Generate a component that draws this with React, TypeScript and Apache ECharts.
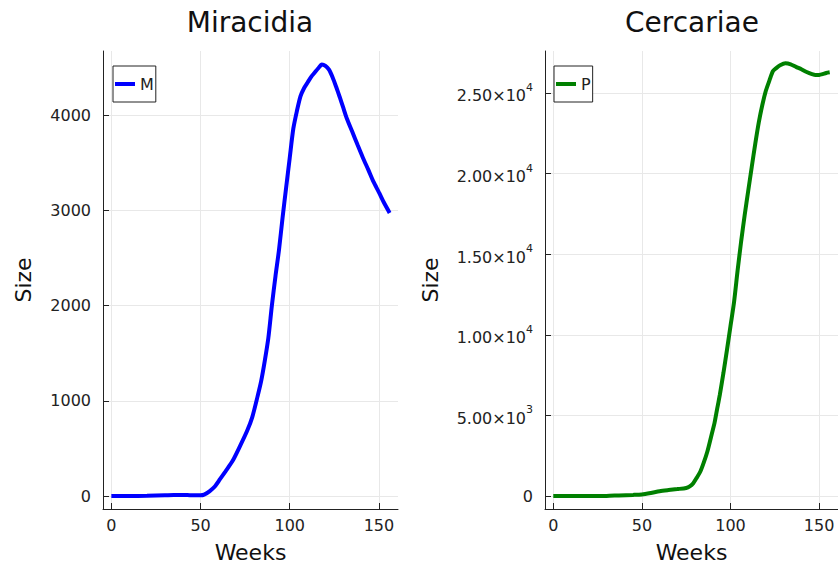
import React, { useEffect, useRef } from "react";
import * as echarts from "echarts";

const mWeeks = [0, 10, 20, 30, 35, 40, 45, 50, 52, 55, 58, 61, 64, 68, 72, 76, 79, 82, 84, 86, 88, 90, 92, 94, 96, 98, 100, 102, 104, 106, 108, 110, 112, 114, 116, 118, 120, 122, 124, 126, 128, 130, 132, 135, 138, 141, 144, 147, 150, 153, 156];
const mValues = [0, 0, 2, 8, 12, 12, 8, 8, 15, 50, 100, 180, 260, 370, 520, 680, 830, 1050, 1210, 1420, 1660, 2005, 2310, 2590, 2930, 3245, 3555, 3860, 4045, 4200, 4285, 4345, 4405, 4450, 4495, 4535, 4520, 4480, 4400, 4300, 4193, 4080, 3967, 3830, 3690, 3555, 3430, 3300, 3190, 3076, 2975];

const pWeeks = [0, 20, 30, 37, 45, 50, 55, 60, 65, 70, 75, 77, 79, 81, 83, 85, 87, 89, 91, 92, 93, 94, 96, 98, 100, 102, 104, 106, 108, 110, 112, 114, 116, 118, 120, 122, 124, 126, 128, 131, 134, 137, 140, 143, 146, 148, 150, 152, 154, 156];
const pValues = [0, 0, 10, 40, 70, 100, 190, 300, 370, 430, 500, 600, 800, 1140, 1520, 2100, 2780, 3650, 4540, 5130, 5700, 6290, 7620, 9050, 10540, 12020, 13970, 15780, 17420, 18920, 20410, 21860, 23190, 24270, 25150, 25780, 26360, 26560, 26720, 26840, 26780, 26620, 26470, 26300, 26170, 26115, 26120, 26170, 26240, 26280];

const xTicks = [0, 50, 100, 150];
const mTicks = [0, 1000, 2000, 3000, 4000];
const pTicks = [0, 5000, 10000, 15000, 20000, 25000];

const FONT = "DejaVu Sans";
const AXIS = "#222222";
const GRID = "#e8e8e8";

function sciLabel(v: number): string {
  if (v === 0) return "0";
  const exp = Math.floor(Math.log10(Math.abs(v)));
  const mant = (v / Math.pow(10, exp)).toFixed(2);
  return `{b|${mant}×10}{s|${exp}}`;
}

function xAxisCfg(gridIndex: number) {
  return {
    type: "value",
    gridIndex,
    min: -4.68,
    max: 160.68,
    name: "Weeks",
    nameLocation: "middle",
    nameGap: 32,
    nameTextStyle: { fontFamily: FONT, fontSize: 22, color: "#111" },
    axisLine: { show: true, onZero: false, lineStyle: { color: AXIS, width: 1 } },
    axisTick: { show: true, inside: true, length: 6, customValues: xTicks, lineStyle: { color: AXIS } },
    axisLabel: { customValues: xTicks, fontFamily: FONT, fontSize: 16, color: "#222", margin: 8, formatter: (v: number) => String(v) },
    splitLine: { show: true, lineStyle: { color: GRID, width: 1 } },
  };
}

function legendCfg(name: string, left: number) {
  return {
    data: [{ name, icon: "rect" }], left, top: 66, orient: "vertical", padding: [10, 2, 10, 2], itemWidth: 20, itemHeight: 4,
    borderColor: "#222", borderWidth: 1, borderRadius: 0, backgroundColor: "#fff",
    textStyle: { fontFamily: FONT, fontSize: 16, color: "#222" },
  };
}

export default function App() {
  const ref = useRef<HTMLDivElement>(null);
  useEffect(() => {
    if (!ref.current) return;
    const chart = echarts.init(ref.current, null, { renderer: "svg" });
    const option: any = {
      animation: false,
      backgroundColor: "#ffffff",
      title: [
        { text: "Miracidia", left: 250, top: 8, textAlign: "center", padding: 0, textStyle: { fontFamily: FONT, fontSize: 28, fontWeight: "normal", color: "#111" } },
        { text: "Cercariae", left: 692, top: 8, textAlign: "center", padding: 0, textStyle: { fontFamily: FONT, fontSize: 28, fontWeight: "normal", color: "#111" } },
      ],
      legend: [legendCfg("M", 113), legendCfg("P", 554)],
      grid: [
        { left: 103, top: 51, width: 295, height: 458, containLabel: false },
        { left: 545, top: 51, width: 293, height: 459, containLabel: false },
      ],
      xAxis: [xAxisCfg(0), xAxisCfg(1)],
      yAxis: [
        {
          type: "value", gridIndex: 0, min: -136, max: 4676,
          name: "Size", nameLocation: "middle", nameGap: 69,
          nameTextStyle: { fontFamily: FONT, fontSize: 22, color: "#111" },
          axisLine: { show: true, onZero: false, lineStyle: { color: AXIS, width: 1 } },
          axisTick: { show: true, inside: true, length: 6, customValues: mTicks, lineStyle: { color: AXIS } },
          axisLabel: { customValues: mTicks, fontFamily: FONT, fontSize: 16, color: "#222", margin: 12, formatter: (v: number) => String(v) },
          splitLine: { show: true, lineStyle: { color: GRID, width: 1 } },
        },
        {
          type: "value", gridIndex: 1, min: -804, max: 27604,
          name: "Size", nameLocation: "middle", nameGap: 104,
          nameTextStyle: { fontFamily: FONT, fontSize: 22, color: "#111" },
          axisLine: { show: true, onZero: false, lineStyle: { color: AXIS, width: 1 } },
          axisTick: { show: true, inside: true, length: 6, customValues: pTicks, lineStyle: { color: AXIS } },
          axisLabel: {
            customValues: pTicks, fontFamily: FONT, fontSize: 16, color: "#222", margin: 12,
            formatter: (v: number) => sciLabel(v),
            rich: {
              b: { fontFamily: FONT, fontSize: 16, color: "#222", lineHeight: 22, verticalAlign: "bottom" },
              s: { fontFamily: FONT, fontSize: 11, color: "#222", lineHeight: 10, verticalAlign: "top" },
            },
          },
          splitLine: { show: true, lineStyle: { color: GRID, width: 1 } },
        },
      ],
      series: [
        {
          name: "M", type: "line", xAxisIndex: 0, yAxisIndex: 0, symbol: "none", showSymbol: false, smooth: 0.25,
          lineStyle: { color: "#0000ff", width: 4 }, itemStyle: { color: "#0000ff" },
          data: mWeeks.map((w, i) => [w, mValues[i]]),
        },
        {
          name: "P", type: "line", xAxisIndex: 1, yAxisIndex: 1, symbol: "none", showSymbol: false, smooth: 0.25,
          lineStyle: { color: "#008000", width: 4 }, itemStyle: { color: "#008000" },
          data: pWeeks.map((w, i) => [w, pValues[i]]),
        },
      ],
    };
    chart.setOption(option);
    return () => chart.dispose();
  }, []);
  return <div ref={ref} style={{ width: 838, height: 568, position: "absolute", left: 0, top: 0 }} />;
}
